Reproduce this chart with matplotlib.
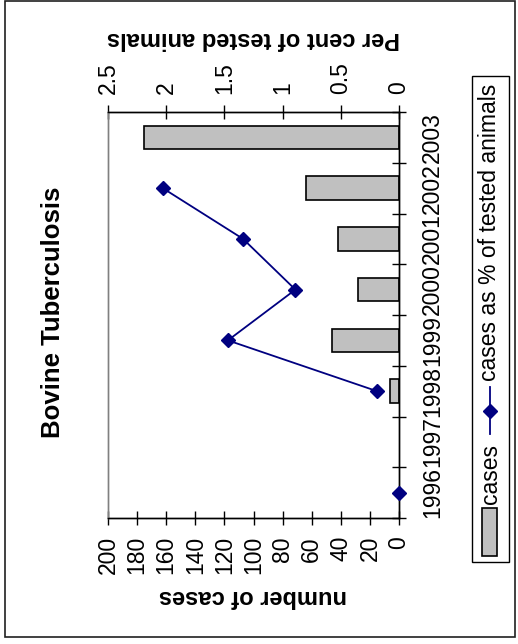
import numpy as np
import matplotlib
matplotlib.use("Agg")
import matplotlib.pyplot as plt
from matplotlib.patches import Rectangle
from matplotlib.lines import Line2D

# ---- data ----
years = ['1996', '1997', '1998', '1999', '2000', '2001', '2002', '2003']
cases = [np.nan, np.nan, 6, 46, 28, 42, 64, 175]
pct = [0.0, np.nan, 0.19, 1.47, 0.89, 1.34, 2.03, np.nan]
cases_ticks = list(range(0, 201, 20))
pct_ticks = [0, 0.5, 1, 1.5, 2, 2.5]
pct_tick_labels = ['0', '0.5', '1', '1.5', '2', '2.5']

title = 'Bovine Tuberculosis'
label_cases = 'number of cases'
label_pct = 'Per cent of tested animals'
legend_bar = 'cases'
legend_line = 'cases as % of tested animals'

plt.rcParams['font.family'] = ['Liberation Sans', 'DejaVu Sans']

W, H = 518, 644
fig = plt.figure(figsize=(W / 100, H / 100), dpi=100)

def fx(px):
    return px / W

def fy(py):
    return 1 - py / H

# plot area (pixels): x 108..399, y 112..518
ax = fig.add_axes([fx(108), fy(518), fx(399) - fx(108), fy(112) - fy(518)])
pos = np.arange(len(years))

ax.barh(pos, cases, height=0.46, color='#C0C0C0', edgecolor='black', linewidth=1.2, zorder=2)
ax.set_xlim(200, 0)
ax.set_ylim(-0.5, len(years) - 0.5)
ax.set_xticks(cases_ticks)
ax.set_xticklabels([str(v) for v in cases_ticks], rotation=90, fontsize=16.5)
ax.tick_params(axis='x', direction='inout', length=10, width=1, pad=8)

ax.yaxis.tick_right()
ax.set_yticks(np.arange(-0.5, len(years), 1.0))
ax.set_yticklabels([])
ax.set_yticks(pos, minor=True)
ax.set_yticklabels(years, minor=True, rotation=90, fontsize=16.5, va='center')
ax.tick_params(axis='y', which='major', direction='inout', length=10, width=1)
ax.tick_params(axis='y', which='minor', length=0, pad=16)

ax2 = ax.twiny()
ax2.plot(pct, pos, color='#000080', linewidth=1.3, marker='D', markersize=7,
         markerfacecolor='#000080', markeredgecolor='#000080', clip_on=False, zorder=3)
ax2.set_xlim(2.5, 0)
ax2.set_xticks(pct_ticks)
ax2.set_xticklabels(pct_tick_labels, rotation=90, fontsize=16.5)
ax2.tick_params(axis='x', direction='inout', length=10, width=1, pad=8)

for a in (ax, ax2):
    for s in ('top', 'bottom', 'right'):
        a.spines[s].set_color('black')
        a.spines[s].set_linewidth(1)
    a.spines['left'].set_color('#808080')
    a.spines['left'].set_linewidth(1)

# titles / axis labels (chart is rotated)
fig.text(fx(53), fy(312), title, rotation=90, fontsize=18.5, fontweight='bold',
         ha='center', va='center')
fig.text(fx(253), fy(597), label_cases, rotation=180, fontsize=17, fontweight='bold',
         ha='center', va='center')
fig.text(fx(253), fy(38), label_pct, rotation=180, fontsize=17, fontweight='bold',
         ha='center', va='center')

# outer chart border
fig.patches.append(Rectangle((fx(5), fy(637)), fx(515) - fx(5), fy(1) - fy(637),
                             transform=fig.transFigure, fill=False, edgecolor='#202020',
                             linewidth=1.2))

# legend (rotated)
fig.patches.append(Rectangle((fx(472), fy(562)), fx(509) - fx(472), fy(76) - fy(562),
                             transform=fig.transFigure, fill=False, edgecolor='black',
                             linewidth=1))
fig.patches.append(Rectangle((fx(482), fy(556)), fx(497) - fx(482), fy(508) - fy(556),
                             transform=fig.transFigure, facecolor='#C0C0C0',
                             edgecolor='black', linewidth=1.2))
fig.text(fx(490), fy(504), legend_bar, rotation=90, fontsize=16.5, ha='center', va='bottom')
fig.lines.append(Line2D([fx(490), fx(490)], [fy(434), fy(387)], transform=fig.transFigure,
                        color='#000080', linewidth=1.3))
fig.lines.append(Line2D([fx(490)], [fy(411)], transform=fig.transFigure, color='#000080',
                        marker='D', markersize=7, linestyle='none'))
fig.text(fx(490), fy(381), legend_line, rotation=90, fontsize=16.5, ha='center', va='bottom')

fig.savefig('out.png', dpi=100)
